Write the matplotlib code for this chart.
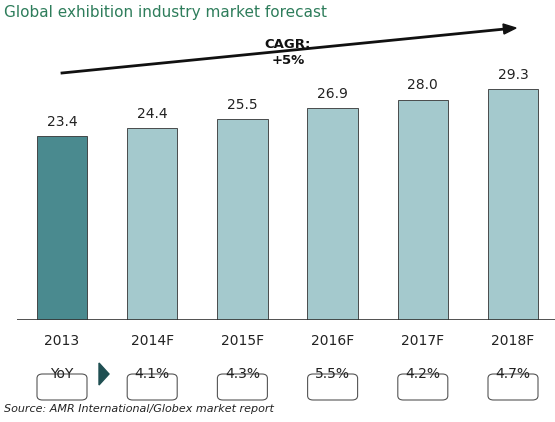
import matplotlib.pyplot as plt
from matplotlib.patches import FancyBboxPatch, Polygon

years = ['2013', '2014F', '2015F', '2016F', '2017F', '2018F']
values = [23.4, 24.4, 25.5, 26.9, 28.0, 29.3]
yoy = ['4.1%', '4.3%', '5.5%', '4.2%', '4.7%']

W, H = 555, 422
fig = plt.figure(figsize=(W / 100, H / 100), dpi=100)
ax = fig.add_axes([17 / W, 102 / H, 541 / W, 315 / H])
colors = ['#4a8a8f'] + ['#a4c9cd'] * 5
x = range(len(years))
ax.bar(x, values, width=0.56, color=colors, edgecolor='#333333', linewidth=0.6)
for i, v in enumerate(values):
    ax.text(i, v + 0.9, f'{v:.1f}', ha='center', va='bottom', fontsize=10, color='#222222')
ax.set_xlim(-0.5, 5.5)
ax.set_ylim(0, 40)
ax.axis('off')
ax.axhline(0, color='#333333', lw=1.2, xmin=-0.02)

def fx(px):
    return px / W

def fy(py):
    return 1 - py / H

fig.text(fx(4), fy(12), 'Global exhibition industry market forecast', fontsize=11,
         color='#2e7d5b', va='center')

# CAGR arrow
fig.add_artist(plt.Line2D([fx(62), fx(505)], [fy(73), fy(29)], color='#111111', lw=2))
fig.add_artist(Polygon([[fx(516), fy(28)], [fx(503), fy(24)], [fx(504), fy(34)]],
                       closed=True, color='#111111', transform=fig.transFigure))
fig.text(fx(288), fy(52), 'CAGR:\n+5%', ha='center', va='center', fontsize=9.5,
         fontweight='bold', color='#111111', linespacing=1.3)

# year labels and boxes
centers = [62 + 90.2 * i for i in range(6)]
for i, yr in enumerate(years):
    fig.text(fx(centers[i]), fy(341), yr, ha='center', va='center', fontsize=10, color='#222222')
labels = ['YoY'] + yoy
for i, lab in enumerate(labels):
    bw, bh = 50, 26
    fig.add_artist(FancyBboxPatch((fx(centers[i] - bw / 2), fy(374 + bh / 2 - 13) - bh / H),
                                  bw / W, bh / H, boxstyle='round,pad=0,rounding_size=0.01',
                                  fc='white', ec='#555555', lw=0.8,
                                  transform=fig.transFigure))
    fig.text(fx(centers[i]), fy(374), lab, ha='center', va='center', fontsize=10, color='#222222')
fig.add_artist(Polygon([[fx(99), fy(363)], [fx(99), fy(385)], [fx(109), fy(374)]],
                       closed=True, color='#1f4f52', transform=fig.transFigure))

fig.text(fx(4), fy(409), 'Source: AMR International/Globex market report', fontsize=8,
         style='italic', color='#222222', va='center')

fig.savefig('out.png', dpi=100)
